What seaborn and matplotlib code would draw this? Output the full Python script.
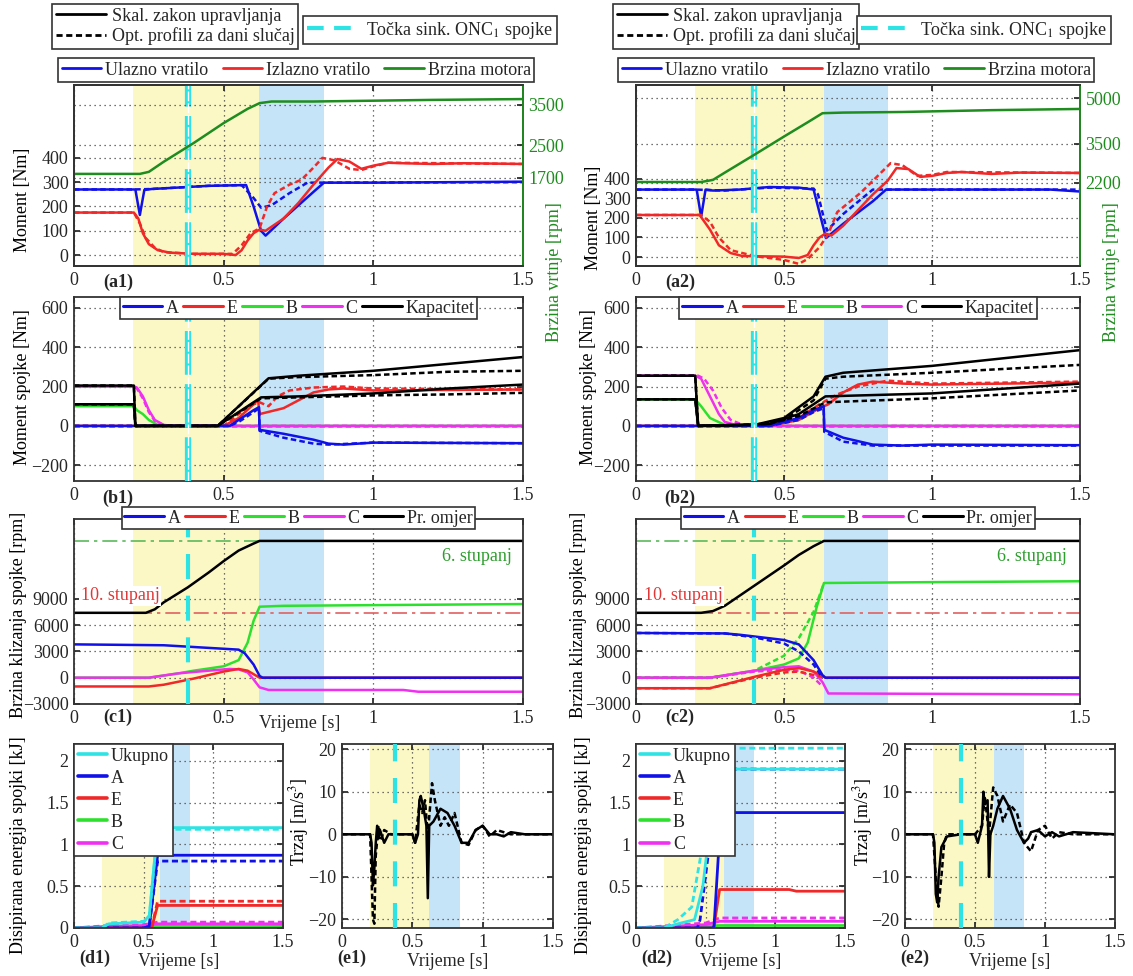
import matplotlib
matplotlib.use('Agg')
import matplotlib.pyplot as plt
import seaborn as sns
from matplotlib.lines import Line2D

W, H = 1133, 976

# ---- colours -------------------------------------------------------------
C_IN = '#1010e8'
C_OUT = '#f02828'
C_MOT = '#1e8c1e'
C_B = '#2ee02e'
C_C = '#f030f0'
C_CYAN = '#2ee3e3'
C_YEL = '#fbf8c6'
C_BLU = '#c6e4f7'

# ---- shift phases (yellow start, blue start, blue end) and sync point ----
PHASE1 = [0.198, 0.619, 0.836]
PHASE2 = [0.200, 0.635, 0.850]
SYNC1 = 0.38
SYNC2 = 0.40

# ---- (a) shaft torques [Nm] and engine speed [rpm] ------------------------
T_MOT1 = [0, 0.22, 0.25, 0.30, 0.40, 0.50, 0.58, 0.62, 0.66, 0.80, 1.00, 1.20, 1.50]
MOT1 = [1800, 1800, 1850, 2100, 2560, 3050, 3400, 3540, 3580, 3580, 3600, 3620, 3640]
T_IN1 = [0, 0.205, 0.22, 0.235, 0.26, 0.35, 0.45, 0.575, 0.60, 0.625, 0.64, 0.70, 0.80, 0.835, 1.0, 1.5]
IN1 = [270, 270, 165, 268, 272, 278, 285, 288, 200, 100, 80, 150, 260, 298, 298, 302]
T_IN1_OPT = [0, 0.20, 0.26, 0.45, 0.56, 0.60, 0.625, 0.66, 0.72, 0.78, 1.5]
IN1_OPT = [270, 270, 272, 285, 288, 235, 195, 205, 255, 298, 300]
T_OUT1 = [0, 0.20, 0.215, 0.23, 0.25, 0.28, 0.32, 0.40, 0.50, 0.54, 0.56, 0.58, 0.60, 0.62, 0.64,
          0.70, 0.75, 0.80, 0.85, 0.88, 0.92, 0.96, 1.00, 1.05, 1.10, 1.20, 1.30, 1.50]
OUT1 = [175, 175, 150, 90, 45, 20, 10, 5, 5, 0, 20, 60, 90, 105, 100,
        150, 215, 290, 360, 395, 385, 355, 368, 380, 378, 375, 378, 375]
T_OUT1_OPT = [0, 0.20, 0.22, 0.24, 0.27, 0.30, 0.40, 0.53, 0.56, 0.59, 0.62, 0.645, 0.67, 0.72,
              0.76, 0.80, 0.83, 0.87, 0.92, 0.96, 1.00, 1.05, 1.50]
OUT1_OPT = [175, 175, 130, 70, 30, 12, 5, 5, 40, 90, 110, 200, 255, 290,
            310, 360, 400, 390, 355, 350, 365, 380, 375]

T_MOT2 = [0, 0.22, 0.26, 0.30, 0.40, 0.50, 0.58, 0.63, 0.70, 0.90, 1.20, 1.50]
MOT2 = [2230, 2230, 2300, 2540, 3130, 3730, 4200, 4500, 4520, 4540, 4600, 4640]
T_IN2 = [0, 0.205, 0.22, 0.235, 0.26, 0.35, 0.45, 0.55, 0.60, 0.642, 0.70, 0.80, 0.845, 1.0, 1.4, 1.5]
IN2 = [345, 345, 205, 345, 340, 345, 358, 355, 345, 97, 170, 285, 345, 345, 345, 335]
T_IN2_OPT = [0, 0.20, 0.30, 0.45, 0.60, 0.615, 0.645, 0.70, 0.80, 1.5]
IN2_OPT = [345, 345, 340, 355, 350, 320, 135, 220, 345, 345]
T_OUT2 = [0, 0.215, 0.25, 0.28, 0.32, 0.36, 0.50, 0.55, 0.58, 0.60, 0.62, 0.64, 0.66, 0.70, 0.75,
          0.80, 0.85, 0.88, 0.92, 0.96, 1.00, 1.05, 1.10, 1.20, 1.30, 1.50]
OUT2 = [215, 215, 140, 60, 20, 5, 2, -5, 10, 60, 100, 120, 110, 160, 240,
        320, 390, 455, 450, 410, 415, 430, 435, 425, 432, 430]
T_OUT2_OPT = [0, 0.22, 0.25, 0.28, 0.32, 0.40, 0.50, 0.55, 0.58, 0.62, 0.65, 0.68, 0.72, 0.76,
              0.82, 0.86, 0.90, 0.95, 1.00, 1.05, 1.50]
OUT2_OPT = [215, 215, 180, 100, 35, 5, -15, -35, -10, 50, 120, 230, 280, 330,
            420, 480, 470, 415, 420, 435, 430]

# ---- (b) clutch torques [Nm] ---------------------------------------------
T_CAPH1 = [0, 0.20, 0.205, 0.48, 0.65, 0.75, 1.0, 1.25, 1.5]
CAPH1 = [205, 205, 0, 0, 242, 255, 280, 315, 350]
CAPH1_OPT = [205, 205, 0, 0, 240, 248, 258, 275, 280]
T_CAPL1 = [0, 0.20, 0.205, 0.48, 0.625, 0.75, 1.0, 1.25, 1.5]
CAPL1 = [110, 110, 0, 0, 145, 150, 165, 190, 210]
CAPL1_OPT = [110, 110, 0, 0, 140, 145, 155, 160, 168]
T_CTQ1 = [0, 0.20, 0.21, 0.23, 0.25, 0.27, 0.30, 0.33, 1.5]
CTQ1 = [200, 200, 195, 150, 80, 30, 5, 0, 0]
CTQ1_OPT = [200, 200, 190, 140, 70, 25, 3, 0, 0]
T_BTQ1 = [0, 0.20, 0.21, 0.23, 0.25, 0.28, 0.30, 1.5]
BTQ1 = [100, 100, 80, 60, 30, 5, 0, 0]
T_ETQ1 = [0, 0.50, 0.55, 0.60, 0.615, 0.62, 0.70, 0.75, 0.80, 0.85, 0.90, 1.00, 1.50]
ETQ1 = [0, 0, 40, 110, 130, 60, 90, 130, 170, 185, 190, 180, 185]
T_ETQ1_OPT = [0, 0.50, 0.55, 0.60, 0.62, 0.65, 0.68, 0.72, 0.80, 0.90, 1.00, 1.50]
ETQ1_OPT = [0, 0, 60, 110, 120, 100, 150, 180, 195, 200, 190, 185]
T_ATQ1 = [0, 0.52, 0.55, 0.60, 0.618, 0.62, 0.70, 0.80, 0.85, 0.90, 1.00, 1.50]
ATQ1 = [0, 0, 30, 80, 95, -20, -40, -70, -90, -95, -85, -88]
ATQ1_OPT = [0, 0, 20, 70, 90, -25, -60, -90, -95, -92, -85, -88]

T_CAPH2 = [0, 0.20, 0.21, 0.40, 0.50, 0.60, 0.64, 0.70, 1.00, 1.50]
CAPH2 = [255, 255, 0, 5, 40, 150, 250, 270, 305, 385]
CAPH2_OPT = [255, 255, 0, 5, 30, 130, 240, 250, 270, 310]
T_CAPL2 = [0, 0.20, 0.21, 0.45, 0.55, 0.64, 1.00, 1.50]
CAPL2 = [135, 135, 0, 10, 60, 150, 165, 215]
CAPL2_OPT = [135, 135, 0, 10, 50, 120, 140, 180]
T_CTQ2 = [0, 0.20, 0.22, 0.25, 0.28, 0.30, 0.35, 1.5]
CTQ2 = [255, 255, 240, 150, 60, 20, 0, 0]
T_CTQ2_OPT = [0, 0.21, 0.23, 0.26, 0.29, 0.32, 0.37, 1.5]
CTQ2_OPT = [255, 255, 240, 180, 90, 30, 0, 0]
T_BTQ2 = [0, 0.20, 0.22, 0.25, 0.30, 0.33, 1.5]
BTQ2 = [135, 135, 100, 40, 5, 0, 0]
T_ETQ2 = [0, 0.45, 0.55, 0.62, 0.65, 0.70, 0.75, 0.80, 0.90, 1.00, 1.50]
ETQ2 = [0, 0, 30, 90, 110, 170, 210, 225, 215, 210, 220]
T_ETQ2_OPT = [0, 0.45, 0.55, 0.62, 0.68, 0.75, 0.85, 1.00, 1.50]
ETQ2_OPT = [0, 0, 40, 110, 160, 200, 230, 215, 225]
T_ATQ2 = [0, 0.45, 0.55, 0.60, 0.634, 0.636, 0.70, 0.80, 0.90, 1.00, 1.50]
ATQ2 = [0, 0, 40, 80, 100, -20, -60, -95, -100, -95, -98]
ATQ2_OPT = [0, 0, 30, 70, 90, -30, -80, -100, -100, -100, -100]

# ---- (c) clutch slip speeds [rpm] and gear ratio (scaled) ----------------
GEAR_HIGH = 15600
GEAR_LOW = 7400
T_RAT1 = [0, 0.24, 0.27, 0.30, 0.38, 0.45, 0.50, 0.55, 0.60, 0.62, 1.5]
RAT1 = [7400, 7400, 7800, 8600, 10300, 12000, 13300, 14500, 15300, 15600, 15600]
T_ASL1 = [0, 0.30, 0.40, 0.50, 0.55, 0.57, 0.60, 0.62, 0.63, 1.5]
ASL1 = [3800, 3700, 3500, 3300, 3200, 2800, 1500, 200, 0, 0]
T_BSL1 = [0, 0.25, 0.35, 0.40, 0.50, 0.55, 0.58, 0.60, 0.62, 0.70, 1.5]
BSL1 = [0, 0, 500, 800, 1300, 2000, 4000, 6500, 8100, 8200, 8400]
T_CSL1 = [0, 0.25, 0.35, 0.45, 0.52, 0.55, 0.58, 0.60, 0.62, 0.65, 1.10, 1.15, 1.5]
CSL1 = [0, 0, 500, 800, 1000, 950, 600, -200, -1100, -1400, -1400, -1600, -1600]
T_ESL1 = [0, 0.25, 0.30, 0.40, 0.50, 0.55, 0.58, 0.60, 0.62, 1.5]
ESL1 = [-1000, -1000, -800, -100, 700, 1000, 800, 400, 0, 0]

T_RAT2 = [0, 0.22, 0.26, 0.30, 0.40, 0.50, 0.55, 0.60, 0.635, 1.5]
RAT2 = [7400, 7400, 7600, 8200, 10500, 12800, 14000, 15000, 15600, 15600]
T_ASL2 = [0, 0.30, 0.35, 0.40, 0.50, 0.55, 0.60, 0.63, 0.64, 1.5]
ASL2 = [5100, 5050, 4900, 4700, 4300, 3800, 2000, 300, 0, 0]
T_ASL2_OPT = [0, 0.30, 0.40, 0.50, 0.55, 0.60, 0.63]
ASL2_OPT = [5100, 5050, 4600, 3900, 3000, 1500, 0]
T_BSL2 = [0, 0.25, 0.40, 0.50, 0.55, 0.58, 0.61, 0.635, 1.0, 1.5]
BSL2 = [0, 0, 800, 1500, 2200, 4000, 8000, 10800, 10900, 11000]
T_BSL2_OPT = [0, 0.25, 0.40, 0.50, 0.55, 0.60, 0.635]
BSL2_OPT = [0, 0, 800, 2500, 4500, 7500, 10800]
T_CSL2 = [0, 0.25, 0.40, 0.50, 0.55, 0.60, 0.63, 0.65, 1.5]
CSL2 = [0, 0, 800, 1200, 1300, 700, -500, -1800, -1900]
T_CSL2_OPT = [0, 0.25, 0.40, 0.50, 0.55, 0.60, 0.63]
CSL2_OPT = [0, 0, 700, 900, 800, 0, -1000]
T_ESL2 = [0, 0.25, 0.40, 0.50, 0.55, 0.60, 0.64, 1.5]
ESL2 = [-1200, -1200, 100, 900, 1100, 700, 0, 0]
T_ESL2_OPT = [0, 0.25, 0.40, 0.50, 0.55, 0.60, 0.64]
ESL2_OPT = [-1200, -1200, 0, 600, 700, 300, 0]

# ---- (d) dissipated energy [kJ] ------------------------------------------
T_TOT1 = [0, 0.20, 0.25, 0.50, 0.54, 0.60, 1.5]
TOT1 = [0, 0, 0.05, 0.07, 0.15, 1.20, 1.20]
TOT1_OPT = [0, 0, 0.06, 0.08, 0.12, 1.18, 1.18]
T_AEN1 = [0, 0.50, 0.54, 0.60, 1.5]
AEN1 = [0, 0, 0.02, 0.87, 0.87]
AEN1_OPT = [0, 0, 0.02, 0.80, 0.80]
T_EEN1 = [0, 0.55, 0.56, 0.60, 1.5]
EEN1 = [0, 0, 0.02, 0.27, 0.27]
EEN1_OPT = [0, 0, 0.02, 0.32, 0.32]
T_CEN1 = [0, 0.25, 0.50, 0.60, 1.5]
CEN1 = [0, 0.02, 0.03, 0.05, 0.05]
CEN1_OPT = [0, 0.03, 0.04, 0.07, 0.07]
T_BEN1 = [0, 0.25, 0.60, 1.5]
BEN1 = [0, 0.01, 0.02, 0.02]

T_TOT2 = [0, 0.20, 0.30, 0.42, 0.48, 0.55, 0.59, 1.5]
TOT2 = [0, 0, 0.05, 0.10, 0.50, 1.50, 1.90, 1.90]
T_TOT2_OPT = [0, 0.20, 0.30, 0.40, 0.50, 0.57, 0.61, 1.5]
TOT2_OPT = [0, 0, 0.10, 0.25, 1.20, 1.90, 2.15, 2.15]
T_AEN2 = [0, 0.55, 0.56, 0.61, 1.5]
AEN2 = [0, 0, 0.02, 1.38, 1.38]
T_AEN2_OPT = [0, 0.44, 0.46, 0.52, 0.60, 1.5]
AEN2_OPT = [0, 0, 0.10, 0.90, 1.90, 1.90]
T_EEN2 = [0, 0.55, 0.56, 0.60, 1.10, 1.15, 1.5]
EEN2 = [0, 0, 0.02, 0.46, 0.46, 0.44, 0.44]
T_CEN2 = [0, 0.25, 0.50, 0.60, 1.5]
CEN2 = [0, 0.02, 0.04, 0.08, 0.08]
CEN2_OPT = [0, 0.03, 0.06, 0.12, 0.12]
T_BEN2 = [0, 0.25, 0.60, 1.5]
BEN2 = [0, 0.01, 0.03, 0.03]

# ---- (e) jerk [m/s^3] ----------------------------------------------------
T_JRK1 = [0, 0.20, 0.21, 0.22, 0.23, 0.24, 0.25, 0.26, 0.27, 0.30, 0.33, 0.50, 0.52, 0.54, 0.55,
          0.56, 0.58, 0.60, 0.61, 0.62, 0.65, 0.70, 0.75, 0.80, 0.85, 0.90, 0.95, 1.00, 1.05,
          1.10, 1.15, 1.20, 1.30, 1.50]
JRK1 = [0, 0, -2, -12, -8, -2, 2, -1, 1, -2, 0, 0, -2, 0, 8,
        9, 6, 2, -15, 2, 3, 6, 5, 2, -2, -2, 1, 2, 0,
        0, -0.5, 0.5, 0, 0]
T_JRK1_OPT = [0, 0.20, 0.22, 0.23, 0.24, 0.26, 0.28, 0.30, 0.35, 0.50, 0.52, 0.55, 0.57, 0.59,
              0.61, 0.64, 0.66, 0.70, 0.73, 0.76, 0.80, 0.85, 0.90, 0.95, 1.00, 1.05, 1.10,
              1.20, 1.50]
JRK1_OPT = [0, 0, -20, -21, -5, 2, -1, 1, 0, 0, -2, 7, 5, 8,
            0, 12, 8, 2, 4, 2, 5, -2, -2.5, 1, 2, -0.5, 1,
            0, 0]
T_JRK2 = [0, 0.20, 0.21, 0.22, 0.23, 0.24, 0.26, 0.30, 0.40, 0.50, 0.52, 0.55, 0.56, 0.57,
          0.59, 0.60, 0.61, 0.63, 0.66, 0.70, 0.75, 0.80, 0.85, 0.88, 0.90, 0.95, 1.00, 1.05,
          1.10, 1.20, 1.50]
JRK2 = [0, 0, -2, -14, -16, -10, -3, -0.5, 0, 0, -2, 2, 10, 7,
        8, -10, 0, 2, 6, 9, 6, 1, -2, -1, 0.5, 1, -0.5, 0.5,
        -0.5, 0.5, 0]
T_JRK2_OPT = [0, 0.20, 0.22, 0.24, 0.26, 0.28, 0.30, 0.50, 0.55, 0.57, 0.58, 0.60, 0.63, 0.66,
              0.70, 0.75, 0.80, 0.85, 0.90, 0.95, 1.00, 1.05, 1.10, 1.20, 1.50]
JRK2_OPT = [0, 0, -10, -17, -10, -2, 0, 0, 2, 9, 6, 0, 11, 9,
            3, 7, 5, -2, -4, 1, 2, -1, 0.5, 0, 0]

# ---- tick values -----------------------------------------------------------
X_TICKS = [0, 0.5, 1, 1.5]
X_TICKLABELS = ['0', '0.5', '1', '1.5']
TQ_TICKS = [0, 100, 200, 300, 400]
RPM_TICKS1 = [1700, 2500, 3500]
RPM_TICKS2 = [2200, 3500, 5000]
CL_TICKS = [-200, 0, 200, 400, 600]
SL_TICKS = [-3000, 0, 3000, 6000, 9000]
EN_TICKS = [0, 0.5, 1, 1.5, 2]
EN_TICKLABELS = ['0', '0.5', '1', '1.5', '2']
JRK_TICKS = [-20, -10, 0, 10, 20]

sns.set_theme(style='white')
plt.rcParams['font.family'] = ['Liberation Serif', 'DejaVu Serif']
plt.rcParams['mathtext.fontset'] = 'stix'
FS = 13

fig = plt.figure(figsize=(W / 100, H / 100), dpi=100)


def new_ax(box):
    l, t, r, b = box
    ax = fig.add_axes([l / W, 1 - b / H, (r - l) / W, (b - t) / H])
    ax.box_px = box
    return ax


def px_to_ax(ax, xp, yp):
    l, t, r, b = ax.box_px
    return (xp - l) / (r - l), (b - yp) / (b - t)


def draw(ax, t, v, color, opt=False, lw=1.8):
    ls = (0, (2.2, 1.3)) if opt else '-'
    sns.lineplot(x=t, y=v, ax=ax, color=color, linestyle=ls, linewidth=lw,
                 estimator=None, sort=False, legend=False)


def frame(ax, ylim, yticks, yticklabels=None, right=True):
    ax.set_xlim(0, 1.5)
    ax.set_ylim(*ylim)
    ax.set_xticks(X_TICKS)
    ax.set_xticklabels(X_TICKLABELS)
    ax.set_yticks(yticks)
    if yticklabels is not None:
        ax.set_yticklabels(yticklabels)
    ax.set_xlabel('')
    ax.set_ylabel('')
    ax.tick_params(direction='in', length=4, labelsize=FS, pad=4,
                   top=True, right=right, bottom=True, left=True)
    ax.set_axisbelow(True)
    ax.grid(True, linestyle=(0, (1, 3)), color='#444444', linewidth=0.9)
    for s in ax.spines.values():
        s.set_color('#333333')
        s.set_linewidth(1.3)


def phases(ax, ph):
    ax.axvspan(ph[0], ph[1], color=C_YEL, zorder=0.2, lw=0)
    ax.axvspan(ph[1], ph[2], color=C_BLU, zorder=0.2, lw=0)


def sync(ax, ts, double):
    if double:
        ax.axvline(ts, color=C_CYAN, lw=4.5, ls=(0, (7, 1.5)), zorder=3)
        ax.axvline(ts, color='white', lw=1.0, ls=(0, (7, 1.5)), zorder=3.1)
    else:
        ax.axvline(ts, color=C_CYAN, lw=3, ls=(0, (6, 4)), zorder=3)


def ylabel_at(ax, text, xp, yp, color='black', right=False):
    shift = -9 if right else 9
    ax.set_ylabel(text, fontsize=FS, color=color)
    ax.yaxis.set_label_coords(*px_to_ax(ax, xp + shift, yp))


def tag(ax, text, xp, yp):
    x, y = px_to_ax(ax, xp, yp)
    ax.text(x, y, text, transform=ax.transAxes, fontsize=FS, fontweight='bold',
            ha='center', va='center')


def clutch_legend(ax, last, y_anchor):
    hs = [Line2D([], [], color=c, lw=2.2) for c in [C_IN, C_OUT, C_B, C_C, 'black']]
    lg = ax.legend(hs, ['A', 'E', 'B', 'C', last], loc='upper center', ncol=5,
                   bbox_to_anchor=(0.5, y_anchor), fontsize=FS, frameon=True,
                   fancybox=False, framealpha=1, borderpad=0.15, handlelength=2.2,
                   handletextpad=0.2, columnspacing=0.25, borderaxespad=0)
    lg.get_frame().set_edgecolor('#333333')
    lg.get_frame().set_linewidth(1.2)
    lg.set_zorder(10)


COLS = {
    1: dict(l=74, r=523, dl=74, dr=283, el=342, er=553, ph=PHASE1, ts=SYNC1,
            mot=(T_MOT1, MOT1, RPM_TICKS1, (-465, 3986)), tq_ylim=(-45, 700),
            ylab_x=22, a_ylab_y=200, b_ylab_x=22, rlab_x=555, d_ylab_x=18, e_ylab_x=302,
            c_ylab_x=18, leg1=52, leg2=303, leg3=58, tag_x=118, dtag=95, etag=352,
            a=[(T_IN1, IN1, C_IN, False), (T_IN1_OPT, IN1_OPT, C_IN, True),
               (T_OUT1, OUT1, C_OUT, False), (T_OUT1_OPT, OUT1_OPT, C_OUT, True)],
            b=[(T_BTQ1, BTQ1, C_B, False), (T_CTQ1, CTQ1, C_C, False), (T_CTQ1, CTQ1_OPT, C_C, True),
               (T_ETQ1, ETQ1, C_OUT, False), (T_ETQ1_OPT, ETQ1_OPT, C_OUT, True),
               (T_ATQ1, ATQ1, C_IN, False), (T_ATQ1, ATQ1_OPT, C_IN, True),
               (T_CAPH1, CAPH1, 'black', False), (T_CAPH1, CAPH1_OPT, 'black', True),
               (T_CAPL1, CAPL1, 'black', False), (T_CAPL1, CAPL1_OPT, 'black', True)],
            c=[(T_BSL1, BSL1, C_B, False), (T_CSL1, CSL1, C_C, False),
               (T_ESL1, ESL1, C_OUT, False), (T_ASL1, ASL1, C_IN, False),
               (T_RAT1, RAT1, 'black', False)],
            d=[(T_BEN1, BEN1, C_B, False), (T_CEN1, CEN1, C_C, False), (T_CEN1, CEN1_OPT, C_C, True),
               (T_EEN1, EEN1, C_OUT, False), (T_EEN1, EEN1_OPT, C_OUT, True),
               (T_AEN1, AEN1, C_IN, False), (T_AEN1, AEN1_OPT, C_IN, True),
               (T_TOT1, TOT1, C_CYAN, False), (T_TOT1, TOT1_OPT, C_CYAN, True)],
            e=[(T_JRK1_OPT, JRK1_OPT, 'black', True), (T_JRK1, JRK1, 'black', False)],
            stup=(0.154, 1.346)),
    2: dict(l=636, r=1080, dl=636, dr=845, el=905, er=1115, ph=PHASE2, ts=SYNC2,
            mot=(T_MOT2, MOT2, RPM_TICKS2, (-540, 5430)), tq_ylim=(-46, 880),
            ylab_x=593, a_ylab_y=218, b_ylab_x=588, rlab_x=1112, d_ylab_x=583, e_ylab_x=866,
            c_ylab_x=578, leg1=613, leg2=857, leg3=618, tag_x=680, dtag=657, etag=915,
            a=[(T_IN2, IN2, C_IN, False), (T_IN2_OPT, IN2_OPT, C_IN, True),
               (T_OUT2, OUT2, C_OUT, False), (T_OUT2_OPT, OUT2_OPT, C_OUT, True)],
            b=[(T_BTQ2, BTQ2, C_B, False), (T_CTQ2, CTQ2, C_C, False), (T_CTQ2_OPT, CTQ2_OPT, C_C, True),
               (T_ETQ2, ETQ2, C_OUT, False), (T_ETQ2_OPT, ETQ2_OPT, C_OUT, True),
               (T_ATQ2, ATQ2, C_IN, False), (T_ATQ2, ATQ2_OPT, C_IN, True),
               (T_CAPH2, CAPH2, 'black', False), (T_CAPH2, CAPH2_OPT, 'black', True),
               (T_CAPL2, CAPL2, 'black', False), (T_CAPL2, CAPL2_OPT, 'black', True)],
            c=[(T_BSL2, BSL2, C_B, False), (T_BSL2_OPT, BSL2_OPT, C_B, True),
               (T_CSL2, CSL2, C_C, False), (T_CSL2_OPT, CSL2_OPT, C_C, True),
               (T_ESL2, ESL2, C_OUT, False), (T_ESL2_OPT, ESL2_OPT, C_OUT, True),
               (T_ASL2, ASL2, C_IN, False), (T_ASL2_OPT, ASL2_OPT, C_IN, True),
               (T_RAT2, RAT2, 'black', False)],
            d=[(T_BEN2, BEN2, C_B, False), (T_CEN2, CEN2, C_C, False), (T_CEN2, CEN2_OPT, C_C, True),
               (T_EEN2, EEN2, C_OUT, False),
               (T_AEN2, AEN2, C_IN, False), (T_AEN2_OPT, AEN2_OPT, C_IN, True),
               (T_TOT2, TOT2, C_CYAN, False), (T_TOT2_OPT, TOT2_OPT, C_CYAN, True)],
            e=[(T_JRK2_OPT, JRK2_OPT, 'black', True), (T_JRK2, JRK2, 'black', False)],
            stup=(0.159, 1.338)),
}

ROW_A, ROW_B, ROW_C, ROW_D = (85, 266), (297, 481), (519, 704), (744, 928)


def top_legend(handles, labels, xp, yp, ncol=1, **kw):
    lg = fig.legend(handles, labels, loc='upper left', ncol=ncol,
                    bbox_to_anchor=(xp / W, 1 - yp / H), fontsize=FS, frameon=True,
                    fancybox=False, framealpha=1, borderpad=0.2, borderaxespad=0,
                    labelspacing=0.15, **kw)
    lg.get_frame().set_edgecolor('#333333')
    lg.get_frame().set_linewidth(1.2)


for k, c in COLS.items():
    n = str(k)
    # ---------------- (a) torques + engine speed ----------------
    ax = new_ax((c['l'], ROW_A[0], c['r'], ROW_A[1]))
    phases(ax, c['ph'])
    for t, v, col, opt in c['a']:
        draw(ax, t, v, col, opt)
    sync(ax, c['ts'], True)
    frame(ax, c['tq_ylim'], TQ_TICKS, right=False)
    ylabel_at(ax, 'Moment [Nm]', c['ylab_x'], c['a_ylab_y'])
    tag(ax, '(a' + n + ')', c['tag_x'], 282)
    ax2 = ax.twinx()
    tm, vm, rt, rl = c['mot']
    draw(ax2, tm, vm, C_MOT)
    ax2.set_ylim(*rl)
    ax2.set_yticks(rt)
    ax2.set_xlim(0, 1.5)
    ax2.box_px = ax.box_px
    ax2.tick_params(direction='in', length=4, labelsize=FS, labelcolor=C_MOT, pad=4)
    ax2.grid(True, axis='y', linestyle=(0, (1, 3)), color='#444444', linewidth=0.9)
    for s in ax2.spines.values():
        s.set_color('#333333')
        s.set_linewidth(1.3)
    ax2.spines['right'].set_color(C_MOT)
    ylabel_at(ax2, 'Brzina vrtnje [rpm]', c['rlab_x'], 272, color=C_MOT, right=True)

    # ---------------- (b) clutch torques ----------------
    ax = new_ax((c['l'], ROW_B[0], c['r'], ROW_B[1]))
    phases(ax, c['ph'])
    draw(ax, [0, 1.5], [0, 0], C_C, True)
    for t, v, col, opt in c['b']:
        draw(ax, t, v, col, opt)
    sync(ax, c['ts'], True)
    frame(ax, (-280, 655), CL_TICKS)
    clutch_legend(ax, 'Kapacitet', 1.0)
    ylabel_at(ax, 'Moment spojke [Nm]', c['b_ylab_x'], 387)
    tag(ax, '(b' + n + ')', c['tag_x'], 498)

    # ---------------- (c) slip speeds ----------------
    ax = new_ax((c['l'], ROW_C[0], c['r'], ROW_C[1]))
    phases(ax, c['ph'])
    draw(ax, [0, c['ph'][1]], [GEAR_HIGH, GEAR_HIGH], '#5cb85c', lw=1.2)
    ax.lines[-1].set_linestyle((0, (9, 3, 2, 3)))
    draw(ax, [0.21, 1.5], [GEAR_LOW, GEAR_LOW], '#e06060', lw=1.2)
    ax.lines[-1].set_linestyle((0, (9, 3, 2, 3)))
    for t, v, col, opt in c['c']:
        draw(ax, t, v, col, opt)
    sync(ax, c['ts'], False)
    frame(ax, (-3000, 18100), SL_TICKS)
    ax.text(c['stup'][0], 9350, '10. stupanj', color='#e03838', fontsize=FS,
            ha='center', va='center', zorder=5,
            bbox=dict(facecolor='white', edgecolor='none', pad=1))
    ax.text(c['stup'][1], 13800, '6. stupanj', color='#2e9e2e', fontsize=FS,
            ha='center', va='center', zorder=5)
    clutch_legend(ax, 'Pr. omjer', 1.065)
    ylabel_at(ax, 'Brzina klizanja spojke [rpm]', c['c_ylab_x'], 615)
    tag(ax, '(c' + n + ')', c['tag_x'], 717)
    if k == 1:
        ax.text(0.503, -0.105, 'Vrijeme [s]', transform=ax.transAxes, fontsize=FS,
                ha='center', va='center')

    # ---------------- (d) dissipated energy ----------------
    ax = new_ax((c['dl'], ROW_D[0], c['dr'], ROW_D[1]))
    phases(ax, c['ph'])
    for t, v, col, opt in c['d']:
        draw(ax, t, v, col, opt, lw=2.0)
    frame(ax, (0, 2.2), EN_TICKS, EN_TICKLABELS)
    hs = [Line2D([], [], color=cc, lw=2.6) for cc in [C_CYAN, C_IN, C_OUT, C_B, C_C]]
    lg = ax.legend(hs, ['Ukupno', 'A', 'E', 'B', 'C'], loc='upper left', fontsize=FS,
                   frameon=True, fancybox=False, framealpha=1, borderpad=0.2,
                   handlelength=1.6, handletextpad=0.25, labelspacing=0.28,
                   borderaxespad=0)
    lg.get_frame().set_edgecolor('#333333')
    lg.get_frame().set_linewidth(1.2)
    ax.set_xlabel('Vrijeme [s]', fontsize=FS, labelpad=2)
    ylabel_at(ax, 'Disipirana energija spojki [kJ]', c['d_ylab_x'], 845)
    tag(ax, '(d' + n + ')', c['dtag'], 958)

    # ---------------- (e) jerk ----------------
    ax = new_ax((c['el'], ROW_D[0], c['er'], ROW_D[1]))
    phases(ax, c['ph'])
    for t, v, col, opt in c['e']:
        draw(ax, t, v, col, opt, lw=1.8)
    sync(ax, c['ts'], False)
    frame(ax, (-22, 21.2), JRK_TICKS)
    ax.set_xlabel('Vrijeme [s]', fontsize=FS, labelpad=2)
    ylabel_at(ax, 'Trzaj [m/s$^3$]', c['e_ylab_x'], 822)
    tag(ax, '(e' + n + ')', c['etag'], 958)

    # ---------------- figure legends on top ----------------
    top_legend([Line2D([], [], color='black', lw=2),
                Line2D([], [], color='black', lw=2, ls=(0, (2.2, 1.3)))],
               ['Skal. zakon upravljanja', 'Opt. profili za dani slučaj'],
               c['leg1'], 4, handlelength=2.8, handletextpad=0.3)
    top_legend([Line2D([], [], color=C_CYAN, lw=3, ls=(0, (4, 2.5)))],
               ['Točka sink. ONC$_1$ spojke'], c['leg2'], 16, handlelength=3.0,
               handletextpad=0.3)
    top_legend([Line2D([], [], color=cc, lw=2) for cc in [C_IN, C_OUT, C_MOT]],
               ['Ulazno vratilo', 'Izlazno vratilo', 'Brzina motora'],
               c['leg3'], 58, ncol=3, handlelength=2.2, handletextpad=0.2,
               columnspacing=0.8)

fig.savefig('out.png', dpi=100)
